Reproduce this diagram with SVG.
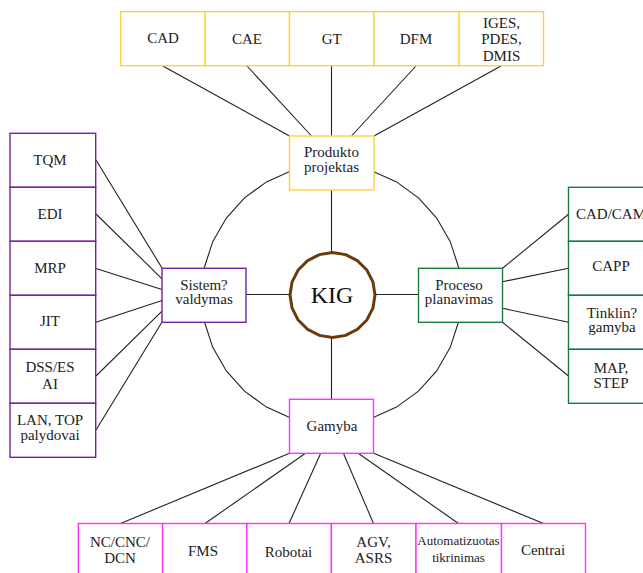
<svg xmlns="http://www.w3.org/2000/svg" width="643" height="573" viewBox="0 0 643 573" font-family="Liberation Serif, Tinos, Times New Roman, DejaVu Serif, serif">
<style>
text{font-family:'Liberation Serif','Tinos','Times New Roman','DejaVu Serif',serif;font-size:15px;fill:#222;text-anchor:middle}
.y{fill:#fff;stroke:#FFD23C;stroke-width:1.4}
.p{fill:#fff;stroke:#7B1FA2;stroke-width:1.4}
.g{fill:#fff;stroke:#1B7A43;stroke-width:1.4}
.m{fill:#fff;stroke:#FF33FF;stroke-width:1.4}
.c line,.c polygon{stroke:#222;stroke-width:1.1;fill:none}
.s{font-size:13px}
.k{font-size:24px;fill:#111}
</style>
<rect width="643" height="573" fill="#fff"/>
<g id="connectors" class="c">
<polygon points="461.5,294.5 458.65,321.53 450.26,347.37 436.67,370.91 418.48,391.1 396.5,407.08 371.67,418.14 345.09,423.79 317.91,423.79 291.33,418.14 266.5,407.08 244.52,391.1 226.33,370.91 212.74,347.37 204.35,321.53 201.5,294.5 204.35,267.47 212.74,241.63 226.33,218.09 244.52,197.9 266.5,181.92 291.33,170.86 317.91,165.21 345.09,165.21 371.67,170.86 396.5,181.92 418.48,197.9 436.67,218.09 450.26,241.63 458.65,267.47"/>
<line x1="162.8" y1="66" x2="289.5" y2="136"/>
<line x1="247" y1="66" x2="311.5" y2="136"/>
<line x1="331.5" y1="66" x2="331.5" y2="136"/>
<line x1="416" y1="66" x2="351.5" y2="136"/>
<line x1="501" y1="66" x2="374" y2="136"/>
<line x1="331.5" y1="190" x2="331.5" y2="252.5"/>
<line x1="331.5" y1="337.5" x2="331.5" y2="399"/>
<line x1="246" y1="294.5" x2="290" y2="294.5"/>
<line x1="375" y1="294.5" x2="418.5" y2="294.5"/>
<line x1="96" y1="160" x2="162" y2="268"/>
<line x1="96" y1="214" x2="162" y2="278.8"/>
<line x1="96" y1="268.5" x2="162" y2="289.6"/>
<line x1="96" y1="322.3" x2="162" y2="300.4"/>
<line x1="96" y1="376" x2="162" y2="311.2"/>
<line x1="96" y1="430" x2="162" y2="322"/>
<line x1="502.5" y1="268.3" x2="568.5" y2="214.3"/>
<line x1="502.5" y1="281.7" x2="568.5" y2="268.3"/>
<line x1="502.5" y1="308.3" x2="568.5" y2="322.3"/>
<line x1="502.5" y1="322.3" x2="568.5" y2="376"/>
<line x1="289.5" y1="453.3" x2="120.5" y2="523.5"/>
<line x1="305.5" y1="453.3" x2="205" y2="523.5"/>
<line x1="320.7" y1="453.3" x2="289" y2="523.5"/>
<line x1="343.4" y1="453.3" x2="373.5" y2="523.5"/>
<line x1="358.2" y1="453.3" x2="458.5" y2="523.5"/>
<line x1="373.7" y1="453.3" x2="543.5" y2="523.5"/>
</g>
<g id="KIG">
<polygon points="375,295 372.92,308.13 366.88,319.98 357.48,329.38 345.63,335.42 332.5,337.5 319.37,335.42 307.52,329.38 298.12,319.98 292.08,308.13 290,295 292.08,281.87 298.12,270.02 307.52,260.62 319.37,254.58 332.5,252.5 345.63,254.58 357.48,260.62 366.88,270.02 372.92,281.87" fill="#fff" stroke="#6B3A0A" stroke-width="3"/>
<text class="k" x="332" y="303">KIG</text>
</g>
<g id="produkto"><rect class="y" x="289.5" y="136" width="84.5" height="54"/><text x="331.5" y="157">Produkto</text><text x="331.5" y="171.5">projektas</text></g>
<g id="sistem"><rect class="p" x="162" y="268.3" width="84" height="54"/><text x="204" y="289.5">Sistem?</text><text x="204" y="304">valdymas</text></g>
<g id="proceso"><rect class="g" x="418.5" y="268.3" width="84" height="54"/><text x="459" y="289.5">Proceso</text><text x="459" y="304">planavimas</text></g>
<g id="gamyba"><rect class="m" x="289.5" y="399.3" width="84" height="54"/><text x="332" y="431">Gamyba</text></g>
<g id="cad"><rect class="y" x="120.7" y="11.7" width="84.4" height="54"/><text x="163" y="43">CAD</text></g>
<g id="cae"><rect class="y" x="205.1" y="11.7" width="84.4" height="54"/><text x="247" y="44">CAE</text></g>
<g id="gt"><rect class="y" x="289.5" y="11.7" width="84.4" height="54"/><text x="331.7" y="44">GT</text></g>
<g id="dfm"><rect class="y" x="373.9" y="11.7" width="85.3" height="54"/><text x="416" y="44">DFM</text></g>
<g id="iges"><rect class="y" x="459.2" y="11.7" width="84.3" height="54"/><text x="501.5" y="28">IGES,</text><text x="501.5" y="44">PDES,</text><text x="501.5" y="60.5">DMIS</text></g>
<g id="tqm"><rect class="p" x="10" y="133.3" width="85.7" height="54"/><text x="50" y="164.5">TQM</text></g>
<g id="edi"><rect class="p" x="10" y="187.3" width="85.7" height="54"/><text x="50" y="219">EDI</text></g>
<g id="mrp"><rect class="p" x="10" y="241.3" width="85.7" height="54"/><text x="50" y="273">MRP</text></g>
<g id="jit"><rect class="p" x="10" y="295.3" width="85.7" height="54"/><text x="50" y="325.5">JIT</text></g>
<g id="dss"><rect class="p" x="10" y="349.3" width="85.7" height="54"/><text x="50" y="372">DSS/ES</text><text x="50" y="388.5">AI</text></g>
<g id="lan"><rect class="p" x="10" y="403.3" width="85.7" height="54"/><text x="50" y="424.5">LAN, TOP</text><text x="50" y="440">palydovai</text></g>
<g id="cadcam"><rect class="g" x="568.5" y="187.3" width="86" height="54"/><text x="611" y="218.5">CAD/CAM</text></g>
<g id="capp"><rect class="g" x="568.5" y="241.3" width="86" height="54"/><text x="611" y="271">CAPP</text></g>
<g id="tinklin"><rect class="g" x="568.5" y="295.3" width="86" height="54"/><text x="612" y="318">Tinklin?</text><text x="612" y="332">gamyba</text></g>
<g id="map"><rect class="g" x="568.5" y="349.3" width="86" height="54"/><text x="611" y="373">MAP,</text><text x="611" y="387.5">STEP</text></g>
<g id="nc"><rect class="m" x="78.3" y="523.5" width="84.3" height="60"/><text x="120" y="547">NC/CNC/</text><text x="120" y="562.5">DCN</text></g>
<g id="fms"><rect class="m" x="162.6" y="523.5" width="84.3" height="60"/><text x="203" y="555.5">FMS</text></g>
<g id="robotai"><rect class="m" x="246.9" y="523.5" width="84.5" height="60"/><text x="288.5" y="556.5">Robotai</text></g>
<g id="agv"><rect class="m" x="331.4" y="523.5" width="84.6" height="60"/><text x="373.5" y="547">AGV,</text><text x="373.5" y="563">ASRS</text></g>
<g id="auto"><rect class="m" x="416" y="523.5" width="85.5" height="60"/><text class="s" x="458.5" y="545">Automatizuotas</text><text class="s" x="458.5" y="561.5">tikrinimas</text></g>
<g id="centrai"><rect class="m" x="501.5" y="523.5" width="84" height="60"/><text x="543" y="554.5">Centrai</text></g>
</svg>
